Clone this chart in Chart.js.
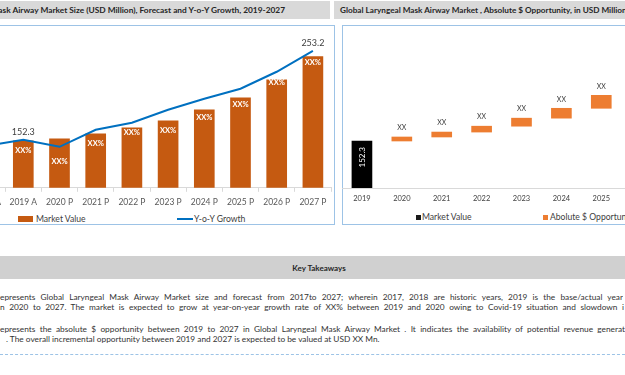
<!DOCTYPE html>
<html>
<head>
<meta charset="utf-8">
<script src="https://cdn.jsdelivr.net/npm/chart.js@4.4.1/dist/chart.umd.min.js"></script>
<style>
  body { margin: 0; width: 625px; height: 375px; overflow: hidden; position: relative; background: #fff; font-family: Lato, "Liberation Sans", sans-serif; color: #333; }
  .abs { position: absolute; white-space: nowrap; }
  .band { position: absolute; background: #d9d9d9; }
  .panel { position: absolute; border: 1px solid #9dc3e6; box-sizing: border-box; }
  .ttl { font-weight: bold; font-size: 8.2px; line-height: 10px; color: #262626; }
  .leg { font-size: 8.6px; line-height: 10px; color: #404040; }
  .txt { position: absolute; font-size: 8.3px; line-height: 10px; color: #333; white-space: normal; overflow: hidden; height: 10px; }
  .just { text-align: justify; text-align-last: justify; }
</style>
</head>
<body>

<!-- title bars -->
<div class="band" style="left:-10px;top:1px;width:340px;height:18px"></div>
<div class="band" style="left:334px;top:1px;width:300px;height:18px"></div>
<div class="abs ttl" style="right:340px;top:5px;font-size:8.35px">Global Laryngeal Mask Airway Market Size (USD Million), Forecast and Y-o-Y Growth, 2019-2027</div>
<div class="abs ttl" style="left:340px;top:5px">Global Laryngeal Mask Airway Market , Absolute $ Opportunity, in USD Million</div>

<!-- chart panels -->
<div class="panel" style="left:-10px;top:25px;width:345px;height:200px"></div>
<div class="panel" style="left:342px;top:25px;width:300px;height:200px"></div>

<canvas id="sizeChart" width="375" height="187" style="position:absolute;left:-41px;top:25px"></canvas>
<canvas id="oppChart" width="363" height="184" style="position:absolute;left:342px;top:25px"></canvas>

<!-- legends -->
<div class="abs" style="left:18px;top:216px;width:15px;height:6px;background:#c55a11"></div>
<div class="abs leg" style="left:36px;top:214px">Market Value</div>
<div class="abs" style="left:177px;top:217.5px;width:16px;height:2px;background:#0070c0"></div>
<div class="abs leg" style="left:194px;top:214px">Y-o-Y Growth</div>

<div class="abs" style="left:416px;top:214.5px;width:5px;height:5px;background:#1a1a1a"></div>
<div class="abs leg" style="left:422px;top:212px">Market Value</div>
<div class="abs" style="left:543px;top:214.5px;width:5px;height:5px;background:#ed7d31"></div>
<div class="abs leg" style="left:550px;top:212px">Abolute $ Opportunity</div>

<!-- key takeaways -->
<div class="band" style="left:0;top:256px;width:625px;height:23px;background:#d0d0d0"></div>
<div class="abs ttl" style="left:0;width:638px;text-align:center;top:263px;font-size:8px">Key Takeaways</div>

<div class="txt just" style="left:0;top:291.5px;width:623px">epresents Global Laryngeal Mask Airway Market size and forecast from 2017to 2027; wherein 2017, 2018 are historic years, 2019 is the base/actual year</div>
<div class="txt just" style="left:0;top:302px;width:624px">n 2020 to 2027. The market is expected to grow at year-on-year growth rate of XX% between 2019 and 2020 owing to Covid-19 situation and slowdown i</div>
<div class="txt just" style="left:0;top:324px;width:625px">epresents the absolute $ opportunity between 2019 to 2027 in Global Laryngeal Mask Airway Market . It indicates the availability of potential revenue generat</div>
<div class="txt" style="left:6px;top:333.5px;width:500px">. The overall incremental opportunity between 2019 and 2027 is expected to be valued at USD XX Mn.</div>

<div class="abs" style="left:0;top:354px;width:625px;border-top:1px dashed #9dc3e6"></div>

<script>
Chart.defaults.font.family = 'Lato, "Liberation Sans", sans-serif';

// market size chart
const sizeYears = ['2018 A', '2019 A', '2020 P', '2021 P', '2022 P', '2023 P', '2024 P', '2025 P', '2026 P', '2027 P'];
const marketValue = [null, 152.3, 154.7, 160.7, 167.9, 176.3, 189.4, 203.8, 225.4, 253.2];
const yoyGrowth = [146.3, 153.5, 145.1, 165.5, 173.9, 189.4, 202.6, 214.6, 235.0, 260.1];
const barTags = [null, 'XX%', 'XX%', 'XX%', 'XX%', 'XX%', 'XX%', 'XX%', 'XX%', 'XX%'];
const valueLabelAt = [1, 9];

// absolute $ opportunity chart
const oppYears = ['2019', '2020', '2021', '2022', '2023', '2024', '2025', '2026', '2027'];
const baseValue = 152.3;
const oppIncrements = [13, 16, 19, 26, 32, 42, null, null];
const oppTags = ['XX', 'XX', 'XX', 'XX', 'XX', 'XX', 'XX', 'XX'];

// how far below the bar top each XX% tag sits
const tagDrop = [0, 10, 23, 10, 5, 10, 8, 7, 3, 6];

const sizeLabels = {
  id: 'sizeLabels',
  afterDatasetsDraw(chart) {
    const ctx = chart.ctx;
    const pts = chart.getDatasetMeta(0).data;
    const bars = chart.getDatasetMeta(1).data;
    ctx.save();
    ctx.textAlign = 'center';
    ctx.textBaseline = 'middle';
    ctx.font = 'bold 7.5px Lato';
    ctx.fillStyle = '#ffffff';
    bars.forEach((b, i) => {
      if (marketValue[i] == null) return;
      ctx.fillText(barTags[i], b.x, b.y + tagDrop[i]);
    });
    ctx.font = '9px Lato';
    ctx.fillStyle = '#404040';
    valueLabelAt.forEach(i => {
      ctx.fillText(marketValue[i].toFixed(1), pts[i].x, pts[i].y - 8);
    });
    ctx.restore();
  }
};

new Chart(document.getElementById('sizeChart'), {
  type: 'bar',
  data: {
    labels: sizeYears,
    datasets: [{
      type: 'line',
      label: 'Y-o-Y Growth',
      data: yoyGrowth,
      borderColor: '#0070c0',
      borderWidth: 2,
      pointRadius: 0,
      tension: 0,
      order: 0
    }, {
      label: 'Market Value',
      data: marketValue,
      backgroundColor: '#c55a11',
      barThickness: 20,
      order: 1
    }]
  },
  options: {
    responsive: false,
    animation: false,
    layout: { padding: { left: 10, right: 3, top: 5, bottom: 0 } },
    scales: {
      x: {
        grid: { display: true, drawOnChartArea: false, tickLength: 4, color: '#d9d9d9' },
        border: { color: '#d9d9d9' },
        ticks: { color: '#595959', font: { size: 8.5 }, padding: 5, maxRotation: 0, autoSkip: false }
      },
      y: { display: false, min: 96, max: 285 }
    },
    plugins: { legend: { display: false }, tooltip: { enabled: false } }
  },
  plugins: [sizeLabels]
});

// floating bars for the increments
const oppRanges = [null];
let level = baseValue;
oppIncrements.forEach(v => {
  if (v == null) { oppRanges.push(null); return; }
  oppRanges.push([level, level + v]);
  level += v;
});
const baseBar = oppYears.map((y, i) => i === 0 ? baseValue : null);

const oppLabels = {
  id: 'oppLabels',
  afterDatasetsDraw(chart) {
    const ctx = chart.ctx;
    const base = chart.getDatasetMeta(0).data[0];
    const steps = chart.getDatasetMeta(1).data;
    ctx.save();
    ctx.font = '7px Lato';
    ctx.fillStyle = '#404040';
    ctx.textAlign = 'center';
    ctx.textBaseline = 'middle';
    steps.forEach((b, i) => {
      if (oppRanges[i] == null) return;
      ctx.fillText(oppTags[i - 1], b.x, b.y - 9);
    });
    ctx.translate(base.x, base.y + 6);
    ctx.rotate(-Math.PI / 2);
    ctx.textAlign = 'right';
    ctx.fillStyle = '#ffffff';
    ctx.font = '8px Lato';
    ctx.fillText(baseValue.toFixed(1), 0, 0);
    ctx.restore();
  }
};

new Chart(document.getElementById('oppChart'), {
  type: 'bar',
  data: {
    labels: oppYears,
    datasets: [{
      label: 'Market Value',
      data: baseBar,
      backgroundColor: '#000000',
      barThickness: 20,
      grouped: false
    }, {
      label: 'Abolute $ Opportunity',
      data: oppRanges,
      backgroundColor: '#ed7d31',
      barThickness: 20,
      grouped: false
    }]
  },
  options: {
    responsive: false,
    animation: false,
    layout: { padding: { left: 0, right: 4, top: 5, bottom: 0 } },
    scales: {
      x: {
        grid: { display: false, drawTicks: false },
        border: { display: true, color: '#d9d9d9' },
        ticks: { color: '#404040', font: { size: 7.5 }, padding: 6, maxRotation: 0, autoSkip: false }
      },
      y: { display: false, min: 0, max: 512 }
    },
    plugins: { legend: { display: false }, tooltip: { enabled: false } }
  },
  plugins: [oppLabels]
});
</script>
</body>
</html>
